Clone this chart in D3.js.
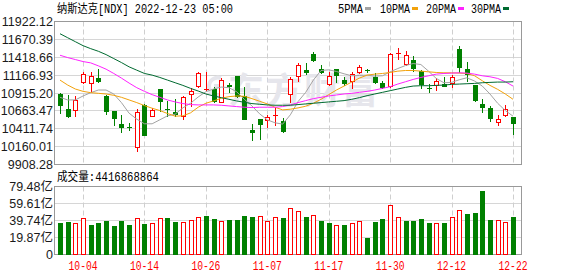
<!DOCTYPE html>
<html>
<head>
<meta charset="utf-8">
<script src="https://cdn.jsdelivr.net/npm/d3@7"></script>
<style>
  html, body { margin: 0; padding: 0; background: #fff; }
  svg { display: block; }
  .mono { font-family: "Liberation Mono", "Noto Sans CJK SC", monospace; font-size: 12px; }
  .axis-label { font-family: "Liberation Sans", "Noto Sans CJK SC", sans-serif; font-size: 12.5px; fill: #1a1a1a; }
</style>
</head>
<body>
<svg id="chart" width="578" height="276"></svg>
<script>
// ---- data ----
const dates = ['09-29','09-30','10-03','10-04','10-05','10-06','10-07','10-10','10-11','10-12',
  '10-13','10-14','10-17','10-18','10-19','10-20','10-21','10-24','10-25','10-26',
  '10-27','10-28','10-31','11-01','11-02','11-03','11-04','11-07','11-08','11-09',
  '11-10','11-11','11-14','11-15','11-16','11-17','11-18','11-21','11-22','11-23',
  '11-25','11-28','11-29','11-30','12-01','12-02','12-05','12-06','12-07','12-08',
  '12-09','12-12','12-13','12-14','12-15','12-16','12-19','12-20','12-21','12-22'];

const open = [10901.2,10691.5,10668.2,11059.7,11036.4,11125.0,10873.3,10668.2,10481.7,10439.7,
  10141.4,10747.4,10584.2,10971.2,10696.1,10649.5,10574.9,10887.3,11003.8,10964.2,
  10971.2,10780.0,11022.4,11153.0,10873.3,10397.8,10551.6,10523.6,10602.9,10514.3,
  10887.3,11134.3,11236.9,11469.9,11260.2,11027.1,11260.2,11097.0,11064.4,11190.3,
  11236.9,11134.3,11059.7,11003.8,11474.6,11311.5,11386.1,11222.9,10980.5,11017.8,
  11041.1,11041.1,11539.9,11250.9,11022.4,10761.4,10710.1,10495.7,10598.2,10579.6];
const high = [10910.6,10887.3,10873.3,11213.6,11213.6,11246.2,10882.6,10668.2,10602.9,10491.0,
  10691.5,10756.7,10700.8,10971.2,10803.3,10831.3,10873.3,10985.2,11213.6,11213.6,
  11003.8,11129.7,11059.7,11153.0,11003.8,10481.7,10551.6,10607.6,10724.1,10560.9,
  11134.3,11344.1,11344.1,11497.9,11306.8,11204.3,11260.2,11134.3,11213.6,11306.8,
  11260.2,11190.3,11087.7,11479.3,11544.6,11502.6,11437.3,11236.9,11036.4,11120.3,
  11134.3,11162.3,11577.2,11348.8,11022.4,10831.3,10733.4,10607.6,10742.7,10579.6];
const low = [10621.5,10560.9,10584.2,11041.1,10919.9,11059.7,10607.6,10444.4,10351.2,10374.5,
  10080.8,10304.5,10574.9,10654.2,10584.2,10584.2,10537.6,10714.8,10989.8,10947.9,
  10770.7,10770.7,10919.9,10840.6,10528.3,10234.6,10257.9,10421.1,10453.7,10351.2,
  10780.0,11073.7,11167.0,11358.1,11180.9,11017.8,11050.4,11013.1,10975.8,11180.9,
  11199.6,11041.1,10966.5,10980.5,11386.1,11297.5,11204.3,10966.5,10919.9,10947.9,
  11003.8,10989.8,11199.6,11073.7,10784.7,10640.2,10500.3,10444.4,10570.3,10318.5];
const close = [10738.1,10574.9,10817.3,11180.9,11153.0,11069.1,10654.2,10547.0,10425.7,10416.4,
  10644.9,10313.9,10677.5,10794.0,10682.1,10607.6,10854.6,10947.9,11199.6,10968.8,
  10794.0,11097.0,10999.1,10863.9,10528.3,10351.2,10463.0,10570.3,10607.6,10365.1,
  11106.4,11316.1,11190.3,11367.4,11190.3,11153.0,11157.6,11041.1,11176.3,11283.5,
  11222.9,11050.4,10989.8,11469.9,11479.3,11456.0,11246.2,11027.1,10971.2,11083.1,
  11003.8,11134.3,11269.5,11167.0,10808.0,10705.5,10547.0,10551.6,10696.1,10477.0];
const prevClose = 10900; // close of the day before the first bar

// volume in 亿
const volume = [37.2,38,36.5,42.2,34.5,37.2,39.2,33.4,39.2,34.5,
  42.2,36,36.8,42.2,43,38.4,38,40.3,43.4,44.9,
  41.5,39.2,40.3,40.3,44.9,43.8,44.9,39.2,43.8,43,
  53.8,50.7,43.8,46.1,39.2,36.8,34.5,34.5,36.8,39.2,
  19.6,38,41.5,58.4,43.8,39.2,39.2,41.5,36.8,36.8,
  36.8,43.8,51.8,47.2,48.4,73.7,40.3,40.3,38,44.17];
const lastVolume = 4416868864;

const ma5 = [10854.6,10817.3,10817.3,10873.3,10919.9,10957.2,10957.2,10901.2,10780.0,10630.9,
  10547.0,10481.7,10481.7,10537.6,10593.6,10616.9,10705.5,10770.7,10859.3,10933.9,
  10971.2,10999.1,10989.8,10933.9,10826.7,10733.4,10621.5,10537.6,10495.7,10477.0,
  10607.6,10794.0,10924.6,11097.0,11232.2,11241.5,11218.2,11185.6,11157.6,11162.3,
  11167.0,11153.0,11157.6,11213.6,11260.2,11302.1,11330.1,11316.1,11222.9,11120.3,
  11059.7,11064.4,11101.7,11129.7,11083.1,11013.1,10901.2,10770.7,10668.2,10588.9];
const ma10 = [11097.0,11027.1,10971.2,10938.5,10919.9,10910.6,10901.2,10882.6,10854.6,10817.3,
  10780.0,10738.1,10700.8,10668.2,10626.2,10588.9,10593.6,10635.5,10714.8,10770.7,
  10803.3,10840.6,10863.9,10873.3,10868.6,10836.0,10798.7,10761.4,10714.8,10677.5,
  10686.8,10705.5,10728.8,10770.7,10826.7,10891.9,10957.2,11013.1,11069.1,11125.0,
  11167.0,11180.9,11190.3,11204.3,11222.9,11232.2,11232.2,11222.9,11213.6,11204.3,
  11199.6,11199.6,11194.9,11190.3,11157.6,11087.7,11022.4,10966.5,10901.2,10826.7];
const ma20 = [11446.7,11414.0,11386.1,11358.1,11339.4,11297.5,11250.9,11190.3,11125.0,11055.1,
  10989.8,10938.5,10891.9,10854.6,10817.3,10789.4,10766.1,10752.1,10747.4,10747.4,
  10747.4,10742.7,10733.4,10724.1,10714.8,10710.1,10714.8,10714.8,10714.8,10724.1,
  10747.4,10780.0,10808.0,10836.0,10854.6,10873.3,10887.3,10901.2,10910.6,10924.6,
  10938.5,10957.2,10980.5,11003.8,11041.1,11073.7,11106.4,11134.3,11157.6,11180.9,
  11190.3,11194.9,11199.6,11194.9,11180.9,11157.6,11143.7,11120.3,11073.7,11013.1];
const ma30 = [11749.7,11693.7,11637.8,11581.9,11539.9,11502.6,11456.0,11400.0,11344.1,11283.5,
  11236.9,11190.3,11167.0,11134.3,11097.0,11059.7,11022.4,10980.5,10943.2,10901.2,
  10873.3,10850.0,10826.7,10803.3,10784.7,10766.1,10756.7,10747.4,10742.7,10742.7,
  10742.7,10752.1,10761.4,10770.7,10780.0,10789.4,10798.7,10808.0,10826.7,10850.0,
  10877.9,10901.2,10924.6,10947.9,10971.2,10994.5,11013.1,11017.8,11017.8,11022.4,
  11027.1,11036.4,11041.1,11045.8,11050.4,11059.7,11064.4,11069.1,11069.1,11073.7];

const priceTicks = [9908.28,10160.01,10411.74,10663.47,10915.20,11166.93,11418.66,11670.39,11922.12];
const volTicks = [0,19.87,39.74,59.61,79.48];
const tickDates = ['10-04','10-14','10-26','11-07','11-17','11-30','12-12','12-22'];

const maSeries = [
  { name: '5PMA',  values: ma5,  color: '#a3a3a3' },
  { name: '10PMA', values: ma10, color: '#f2a20c' },
  { name: '20PMA', values: ma20, color: '#ff22ff' },
  { name: '30PMA', values: ma30, color: '#006a30' }
];

// ---- layout ----
const PLOT_L = 54.5, PLOT_R = 521.5;
const MAIN_T = 21.5, MAIN_B = 164.5;
const VOL_T = 186.5, VOL_B = 254.5;
const RED = '#ff0000', GREEN = '#008000';

const svg = d3.select('#chart');

const x = d3.scalePoint().domain(dates).range([60, 513]);
const y = d3.scaleLinear().domain([9908.28, 11922.12]).range([MAIN_B, MAIN_T]);
const yv = d3.scaleLinear().domain([0, 79.48]).range([VOL_B, VOL_T]);

const bars = dates.map((d, i) => ({
  date: d, o: open[i], h: high[i], l: low[i], c: close[i], v: volume[i],
  volUp: close[i] >= (i ? close[i - 1] : prevClose)
}));

const px = d => Math.round(x(d));
const snap = v => Math.floor(v) + 0.5;

function drawPanelGrid(top, bottom, scale, ticks) {
  const g = svg.append('g');
  // horizontal grid
  g.selectAll('line.h')
    .data(ticks)
    .join('line')
    .attr('x1', PLOT_L).attr('x2', PLOT_R)
    .attr('y1', d => snap(scale(d))).attr('y2', d => snap(scale(d)))
    .attr('stroke', '#d6d6d6');
  // vertical dashed
  g.selectAll('line.v')
    .data(tickDates)
    .join('line')
    .attr('x1', d => px(d) + 0.5).attr('x2', d => px(d) + 0.5)
    .attr('y1', top).attr('y2', bottom)
    .attr('stroke', '#cfcfcf')
    .attr('stroke-dasharray', '5,3');
  // frame
  g.append('rect')
    .attr('x', PLOT_L).attr('y', top)
    .attr('width', PLOT_R - PLOT_L).attr('height', bottom - top)
    .attr('fill', 'none').attr('stroke', '#999');
}

drawPanelGrid(MAIN_T, MAIN_B, y, priceTicks);
drawPanelGrid(VOL_T, VOL_B, yv, volTicks);

// watermark
const wm = svg.append('g').attr('fill', '#e6e6ec');
wm.append('path')
  .attr('d', 'M221,78 a9,9 0 1,0 2,16 M214,86 l8,0')
  .attr('fill', 'none').attr('stroke', '#e6e6ec').attr('stroke-width', 4);
wm.append('text')
  .attr('x', 228).attr('y', 104)
  .attr('font-family', '"Noto Sans CJK SC", sans-serif')
  .attr('font-weight', 'bold')
  .attr('font-size', 36)
  .attr('textLength', 150)
  .text('东方财富');

// price axis labels
svg.append('g').selectAll('text')
  .data(priceTicks)
  .join('text')
  .attr('class', 'axis-label')
  .attr('x', 53).attr('y', d => y(d) + 4.5)
  .attr('text-anchor', 'end')
  .text(d => d.toFixed(2));

// volume axis labels
svg.append('g').selectAll('text')
  .data(volTicks)
  .join('text')
  .attr('class', 'axis-label')
  .attr('x', 53).attr('y', d => yv(d) + 4.5)
  .attr('text-anchor', 'end')
  .text(d => d === 0 ? '0' : d.toFixed(2) + '亿');

// candles
const candle = svg.append('g').selectAll('g')
  .data(bars)
  .join('g')
  .attr('shape-rendering', 'crispEdges');

candle.append('line')
  .attr('x1', d => px(d.date) + 0.5).attr('x2', d => px(d.date) + 0.5)
  .attr('y1', d => Math.round(y(d.h))).attr('y2', d => Math.round(y(d.l)))
  .attr('stroke', d => d.c >= d.o ? RED : GREEN);

candle.each(function(d) {
  const g = d3.select(this);
  const c = px(d.date);
  const yo = Math.round(y(d.o)), yc = Math.round(y(d.c));
  if (d.c >= d.o) {
    if (yo - yc < 2) {
      g.append('line')
        .attr('x1', c - 2).attr('x2', c + 3)
        .attr('y1', yc + 0.5).attr('y2', yc + 0.5)
        .attr('stroke', RED);
    } else {
      g.append('rect')
        .attr('x', c - 1.5).attr('y', yc + 0.5)
        .attr('width', 4).attr('height', yo - yc - 1)
        .attr('fill', '#fff').attr('stroke', RED);
    }
  } else {
    g.append('rect')
      .attr('x', c - 2).attr('y', yo)
      .attr('width', 5).attr('height', Math.max(1, yc - yo))
      .attr('fill', GREEN);
  }
});

// moving averages
const line = d3.line()
  .x((v, i) => x(dates[i]))
  .y(v => y(v));

svg.append('g').selectAll('path')
  .data(maSeries)
  .join('path')
  .attr('d', d => line(d.values))
  .attr('fill', 'none')
  .attr('stroke', d => d.color)
  .attr('stroke-width', 1);

// volume bars
svg.append('g').selectAll('rect')
  .data(bars)
  .join('rect')
  .attr('shape-rendering', 'crispEdges')
  .attr('x', d => d.volUp ? px(d.date) - 1.5 : px(d.date) - 2)
  .attr('y', d => d.volUp ? Math.round(yv(d.v)) + 0.5 : Math.round(yv(d.v)))
  .attr('width', d => d.volUp ? 4 : 5)
  .attr('height', d => d.volUp ? VOL_B - Math.round(yv(d.v)) - 1 : VOL_B + 0.5 - Math.round(yv(d.v)))
  .attr('fill', d => d.volUp ? '#fff' : GREEN)
  .attr('stroke', d => d.volUp ? RED : 'none');

// title
svg.append('text')
  .attr('class', 'mono')
  .attr('x', 57).attr('y', 12.5)
  .attr('fill', '#000')
  .attr('textLength', 176).attr('lengthAdjust', 'spacingAndGlyphs')
  .text('纳斯达克[NDX] 2022-12-23 05:00');

// legend
const legendX = [338, 380, 426, 471];
const legendW = [25, 30, 30, 30];
const legend = svg.append('g').selectAll('g')
  .data(maSeries)
  .join('g')
  .attr('transform', (d, i) => `translate(${legendX[i]},0)`);
legend.append('text')
  .attr('class', 'mono')
  .attr('y', 12.5)
  .attr('fill', '#000')
  .attr('textLength', (d, i) => legendW[i]).attr('lengthAdjust', 'spacingAndGlyphs')
  .text(d => d.name);
legend.append('rect')
  .attr('x', (d, i) => legendW[i] + 2).attr('y', 7)
  .attr('width', 6).attr('height', 3)
  .attr('fill', d => d.color);

// volume title
svg.append('text')
  .attr('class', 'mono')
  .attr('x', 57).attr('y', 181)
  .attr('fill', '#000')
  .attr('textLength', 102).attr('lengthAdjust', 'spacingAndGlyphs')
  .text('成交量:' + lastVolume);

// date labels
svg.append('g').selectAll('text')
  .data(tickDates)
  .join('text')
  .attr('class', 'mono')
  .attr('x', d => x(d)).attr('y', 270)
  .attr('text-anchor', 'middle')
  .attr('fill', RED)
  .attr('textLength', 29).attr('lengthAdjust', 'spacingAndGlyphs')
  .text(d => d);
</script>
</body>
</html>
